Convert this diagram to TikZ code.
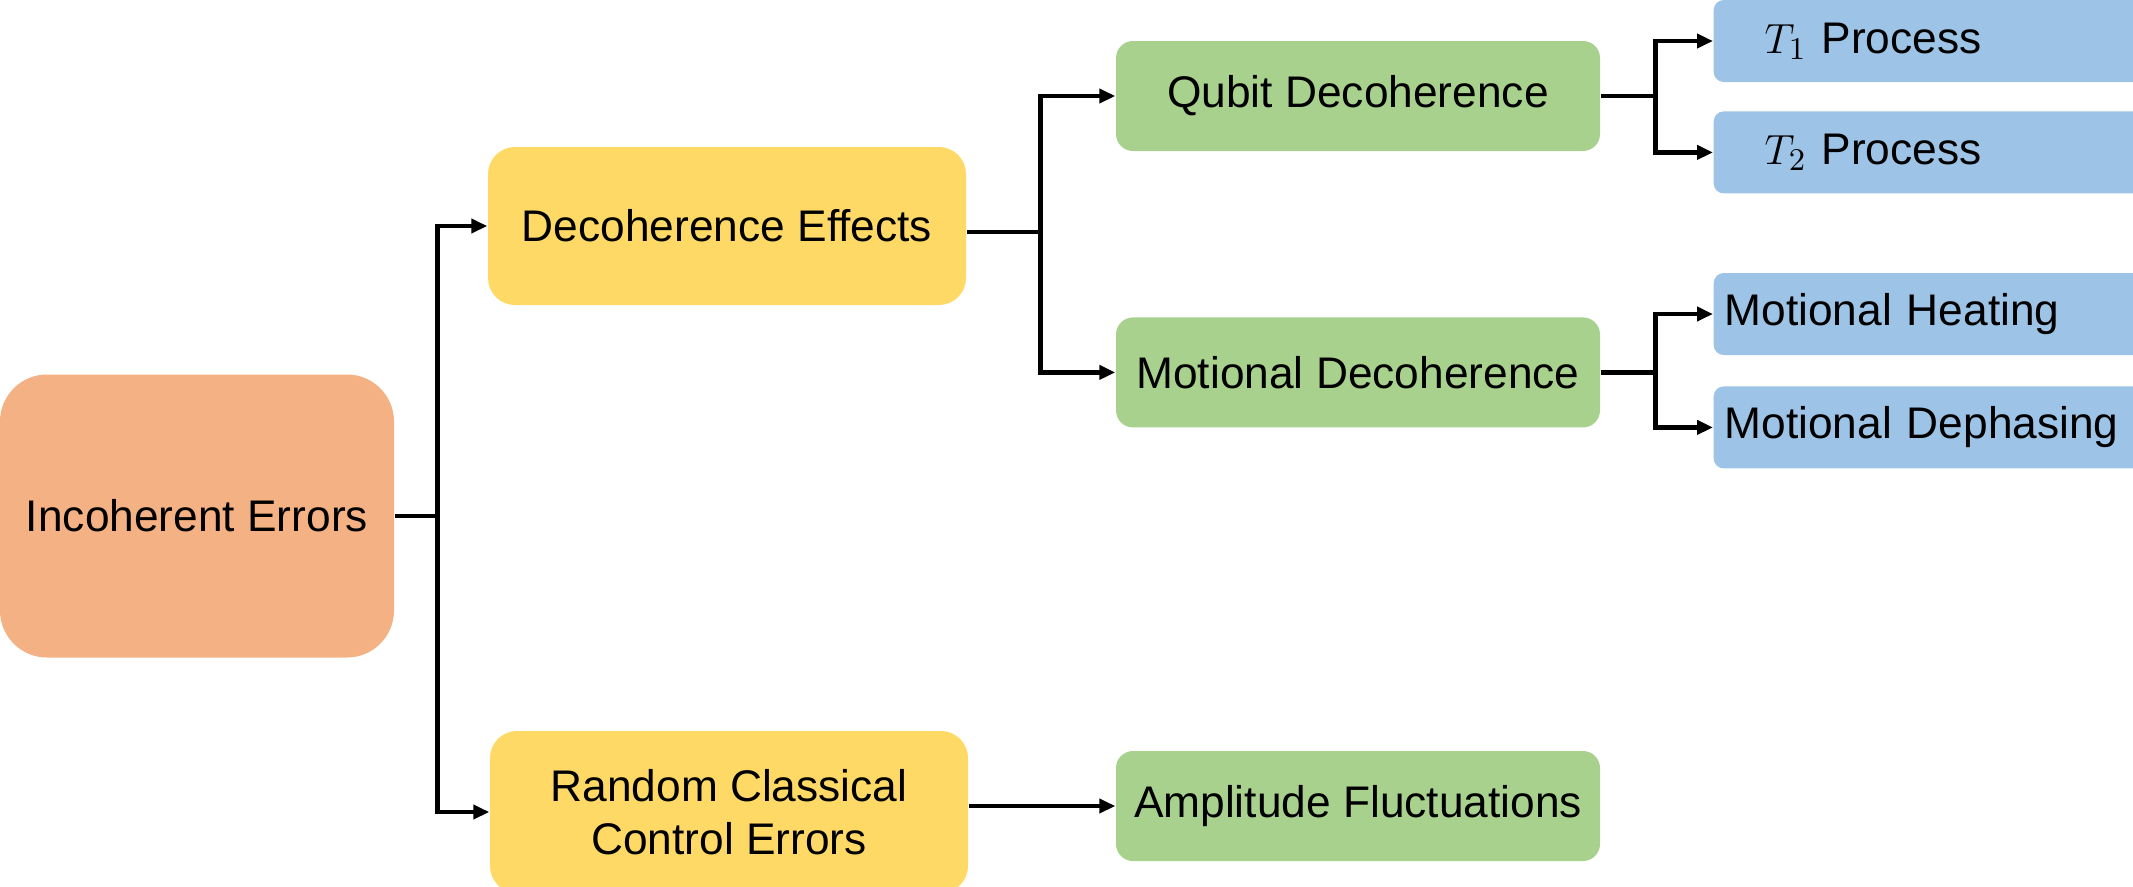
\documentclass[tikz,border=0pt]{standalone}
\usepackage{fontspec}
\setmainfont{Liberation Sans}
\usetikzlibrary{positioning,arrows.meta,calc}
\definecolor{errorange}{HTML}{F4B183}
\definecolor{catyellow}{HTML}{FFD966}
\definecolor{subgreen}{HTML}{A9D18E}
\definecolor{leafblue}{HTML}{9DC3E6}
\tikzset{
  fig/.style={font=\fontsize{12.6}{15}\selectfont},
  box/.style={rounded corners=2.7mm,align=center,inner sep=1pt,
              font=\fontsize{12.6}{15}\selectfont},
  ln/.style={-{Triangle[length=1.6mm,width=1.4mm]},line width=1.3pt},
  lnj/.style={line width=1.3pt},
}

\begin{document}
\begin{tikzpicture}[fig,x=1mm,y=1mm,
  rootbox/.style={box,fill=errorange,rounded corners=4.7mm,minimum width=39.4mm,minimum height=28.3mm},
  catbox/.style={box,fill=catyellow,minimum width=47.8mm,minimum height=15.8mm},
  subbox/.style={box,fill=subgreen,rounded corners=1.7mm,minimum width=48.4mm,minimum height=11mm},
  leafbox/.style={box,fill=leafblue,rounded corners=1mm,anchor=west,align=left,
                  text width=41.5mm,inner xsep=1.1mm,minimum height=8.2mm}]

\useasboundingbox (0,0) rectangle (213.3,-88.6);

\node[rootbox] (inc) at (19.7,-51.6) {Incoherent Errors};
\node[catbox] (deff) at (72.7,-22.6) {Decoherence Effects};
\node[catbox,minimum height=16.2mm] (rcce) at (72.9,-81.2) {Random Classical\\Control Errors};

\node[subbox] (qd) at (135.8,-9.6) {Qubit Decoherence};
\node[subbox,below=16.5mm of qd] (md) {Motional Decoherence};
\node[subbox] (af) at (135.8,-80.6) {Amplitude Fluctuations};

\node[leafbox] (tone) at (171.3,-4.1) {\hspace*{4mm}$T_1$ Process};
\node[leafbox,below=2.8mm of tone] (ttwo) {\hspace*{4mm}$T_2$ Process};
\node[leafbox] (heat) at (171.3,-31.4) {Motional Heating};
\node[leafbox,below=3mm of heat] (deph) {Motional Dephasing};

% branch points
\coordinate[right=4.3mm of inc.east] (incsplit);
\coordinate (deffout) at ($(deff.east)+(0,-0.6)$);
\coordinate[right=7.4mm of deffout] (deffsplit);
\coordinate[right=5.5mm of qd.east] (qdsplit);
\coordinate[right=5.5mm of md.east] (mdsplit);

\draw[lnj] (inc.east) -- (incsplit);
\draw[ln] (incsplit) |- (deff.west);
\draw[ln] (incsplit) |- (rcce.west);

\draw[lnj] (deffout) -- (deffsplit);
\draw[ln] (deffsplit) |- (qd.west);
\draw[ln] (deffsplit) |- (md.west);

\draw[lnj] (qd.east) -- (qdsplit);
\draw[ln] (qdsplit) |- (tone.west);
\draw[ln] (qdsplit) |- (ttwo.west);

\draw[lnj] (md.east) -- (mdsplit);
\draw[ln] (mdsplit) |- (heat.west);
\draw[ln] (mdsplit) |- (deph.west);

\draw[ln] (rcce.east |- af.west) -- (af.west);

\end{tikzpicture}
\end{document}
